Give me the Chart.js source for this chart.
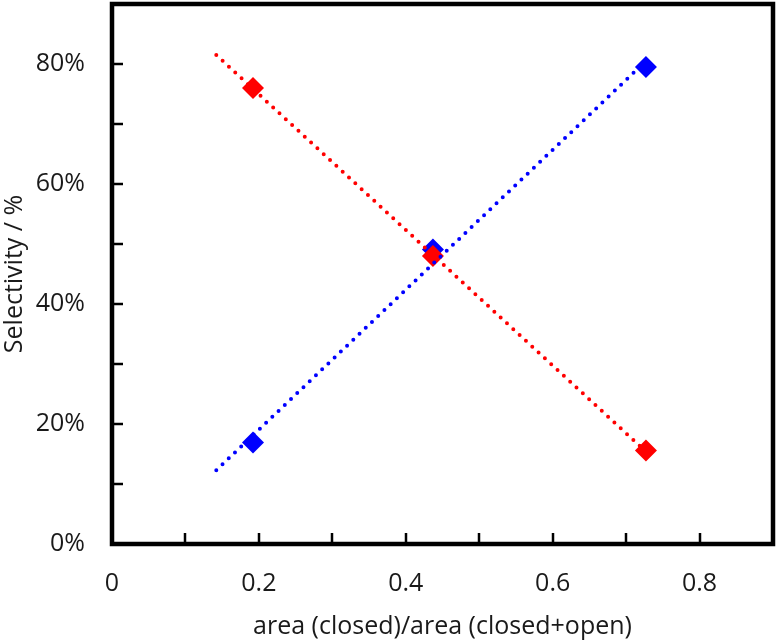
<!DOCTYPE html>
<html>
<head>
<meta charset="utf-8">
<script src="https://cdn.jsdelivr.net/npm/chart.js@4"></script>
<style>
  html, body { margin: 0; padding: 0; background: #fff; }
  #wrap { width: 776px; height: 642px; }
</style>
</head>
<body>
<div id="wrap"><canvas id="selectivityChart" width="776" height="642"></canvas></div>
<script>
// area(closed)/area(closed+open) for each sample
const areaRatio = [0.192, 0.437, 0.727];
// selectivity in %
const blueSelectivity = [16.9, 49.1, 79.5];
const redSelectivity = [76.0, 48.0, 15.6];
// trend line end points
const blueTrendX = [0.142, 0.727];
const blueTrendY = [12.3, 80.5];
const redTrendX = [0.142, 0.727];
const redTrendY = [81.5, 15.4];
// axis ticks
const xTickLabels = [0, 0.2, 0.4, 0.6, 0.8];
const xMinorTicks = [0.1, 0.2, 0.3, 0.4, 0.5, 0.6, 0.7, 0.8];
const yTickLabels = [0, 20, 40, 60, 80];
const yMinorTicks = [10, 20, 30, 40, 50, 60, 70, 80];

const BLUE = '#0000ff';
const RED = '#ff0000';
const TEXT = '#1a1a1a';
const FONT = "'Open Sans', sans-serif";

const toPoints = (xs, ys) => xs.map((x, i) => ({ x: x, y: ys[i] }));

// frame round the plot and inward tick marks
const frameAndTicks = {
  id: 'frameAndTicks',
  afterDraw(chart) {
    const { ctx, chartArea: a, scales } = chart;
    ctx.save();
    ctx.strokeStyle = '#000';
    ctx.lineWidth = 2.5;
    xMinorTicks.forEach((v) => {
      const px = Math.round(scales.x.getPixelForValue(v));
      ctx.beginPath();
      ctx.moveTo(px, a.bottom);
      ctx.lineTo(px, a.bottom - 11);
      ctx.stroke();
    });
    yMinorTicks.forEach((v) => {
      const py = Math.round(scales.y.getPixelForValue(v));
      ctx.beginPath();
      ctx.moveTo(a.left, py);
      ctx.lineTo(a.left + 11, py);
      ctx.stroke();
    });
    ctx.lineWidth = 4.5;
    ctx.strokeRect(a.left, a.top, a.right - a.left, a.bottom - a.top);
    ctx.restore();
  },
};

const ctx = document.getElementById('selectivityChart').getContext('2d');

new Chart(ctx, {
  type: 'scatter',
  data: {
    datasets: [
      {
        label: 'blue trend',
        data: toPoints(blueTrendX, blueTrendY),
        showLine: true,
        borderColor: BLUE,
        borderWidth: 4,
        borderDash: [0, 8.6],
        borderCapStyle: 'round',
        pointRadius: 0,
      },
      {
        label: 'red trend',
        data: toPoints(redTrendX, redTrendY),
        showLine: true,
        borderColor: RED,
        borderWidth: 4,
        borderDash: [0, 8.6],
        borderCapStyle: 'round',
        pointRadius: 0,
      },
      {
        label: 'red',
        data: toPoints(areaRatio, redSelectivity),
        pointStyle: 'rectRot',
        pointRadius: 11,
        pointBackgroundColor: RED,
        pointBorderWidth: 0,
      },
      {
        label: 'blue',
        data: toPoints(areaRatio, blueSelectivity),
        pointStyle: 'rectRot',
        pointRadius: 11,
        pointBackgroundColor: BLUE,
        pointBorderWidth: 0,
      },
    ],
  },
  options: {
    responsive: false,
    animation: false,
    layout: { autoPadding: false, padding: { top: 4, right: 3, bottom: 0, left: 0 } },
    plugins: {
      legend: { display: false },
      tooltip: { enabled: false },
    },
    scales: {
      x: {
        min: 0,
        max: 0.9,
        afterBuildTicks: (scale) => {
          scale.ticks = xTickLabels.map((v) => ({ value: v }));
        },
        afterFit: (scale) => {
          scale.height = 98;
          scale.paddingLeft = 0;
          scale.paddingRight = 0;
        },
        grid: { display: false, drawTicks: false },
        border: { display: false },
        ticks: {
          padding: 25,
          color: TEXT,
          font: { family: FONT, size: 25 },
          callback: (v) => String(v),
        },
        title: {
          display: true,
          text: 'area (closed)/area (closed+open)',
          color: TEXT,
          font: { family: FONT, size: 25 },
          padding: { top: 0, bottom: 0 },
        },
      },
      y: {
        min: 0,
        max: 90,
        afterBuildTicks: (scale) => {
          scale.ticks = yTickLabels.map((v) => ({ value: v }));
        },
        afterFit: (scale) => {
          scale.width = 112;
          scale.paddingTop = 0;
          scale.paddingBottom = 0;
        },
        grid: { display: false, drawTicks: false },
        border: { display: false },
        ticks: {
          padding: 27,
          color: TEXT,
          font: { family: FONT, size: 25 },
          callback: (v) => v + '%',
        },
        title: {
          display: true,
          text: 'Selectivity / %',
          color: TEXT,
          font: { family: FONT, size: 25 },
          padding: { top: 0, bottom: 0 },
        },
      },
    },
  },
  plugins: [frameAndTicks],
});
</script>
</body>
</html>
